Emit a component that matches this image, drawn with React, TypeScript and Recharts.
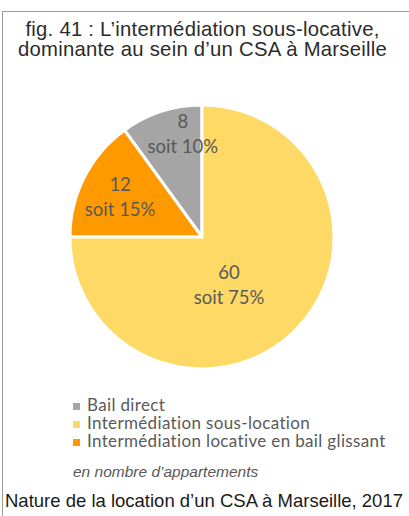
import React from 'react';
import { PieChart, Pie, Cell } from 'recharts';

const categories = ['Bail direct', 'Intermédiation locative en bail glissant', 'Intermédiation sous-location'];
const values = [8, 12, 60];
const percents = ['10%', '15%', '75%'];
const colors = ['#A5A5A5', '#FF9900', '#FFD966'];
const legendLabels = ['Bail direct', 'Intermédiation sous-location', 'Intermédiation locative en bail glissant'];
const legendColors = ['#A5A5A5', '#FFD966', '#FF9900'];
// label placement (polar, relative to pie centre): angle in degrees, radius as fraction of outer radius
const labelAngles = [100.5, 154, -60.6];
const labelRadii = [0.795, 0.69, 0.417];

const data = categories.map((c, i) => ({ name: c, value: values[i], pct: percents[i] }));

const RAD = Math.PI / 180;

const renderLabel = (props: any) => {
  const { cx, cy, outerRadius, index } = props;
  const a = labelAngles[index];
  const r = outerRadius * labelRadii[index];
  const x = cx + r * Math.cos(a * RAD);
  const y = cy - r * Math.sin(a * RAD);
  return (
    <text x={x} y={y} textAnchor="middle" fill="#595959" fontFamily="Lato, 'Open Sans', sans-serif" fontSize={18.5}>
      <tspan x={x} dy={-6}>{values[index]}</tspan>
      <tspan x={x} dy={25}>{'soit ' + percents[index]}</tspan>
    </text>
  );
};

export default function App() {
  return (
    <div style={{ position: 'absolute', left: 0, top: 0, width: 409, height: 516, background: '#fff', overflow: 'hidden' }}>
      <div style={{ position: 'absolute', left: 2, top: 11, width: 407, height: 505, borderTop: '1px solid #9a9a9a', borderLeft: '1px solid #9a9a9a', boxSizing: 'border-box' }} />
      <div style={{ position: 'absolute', left: 2, top: 19, width: 401, textAlign: 'center', fontFamily: "'Liberation Sans', Arial, sans-serif", fontSize: 20.3, letterSpacing: 0.25, lineHeight: '20px', color: '#2b2b2b', whiteSpace: 'nowrap' }}>
        <div>fig. 41 : L’intermédiation sous-locative,</div>
        <div>dominante au sein d’un CSA à Marseille</div>
      </div>
      <div style={{ position: 'absolute', left: 0, top: 0 }}>
        <PieChart width={409} height={400} margin={{ top: 0, right: 0, bottom: 0, left: 0 }}>
          <Pie
            data={data}
            dataKey="value"
            cx={202}
            cy={237}
            outerRadius={132}
            innerRadius={0}
            startAngle={90}
            endAngle={450}
            stroke="#ffffff"
            strokeWidth={3}
            label={renderLabel}
            labelLine={false}
            isAnimationActive={false}
          >
            {data.map((d, i) => (
              <Cell key={d.name} fill={colors[i]} />
            ))}
          </Pie>
        </PieChart>
      </div>
      <div style={{ position: 'absolute', left: 73, top: 396, fontFamily: "Lato, 'Open Sans', sans-serif", fontSize: 17, letterSpacing: 0.35, lineHeight: '18px', color: '#595959', whiteSpace: 'nowrap' }}>
        {legendLabels.map((label, i) => (
          <div key={label} style={{ display: 'flex', alignItems: 'center' }}>
            <span style={{ display: 'inline-block', width: 7, height: 7, background: legendColors[i], marginRight: 7, marginTop: 2 }} />
            <span>{label}</span>
          </div>
        ))}
      </div>
      <div style={{ position: 'absolute', left: 73, top: 463, fontFamily: "'Liberation Sans', Arial, sans-serif", fontStyle: 'italic', fontSize: 15.5, lineHeight: '18px', color: '#595959', whiteSpace: 'nowrap' }}>
        en nombre d’appartements
      </div>
      <div style={{ position: 'absolute', left: 5, top: 491, fontFamily: "'Liberation Sans', Arial, sans-serif", fontSize: 18.5, lineHeight: '20px', color: '#1a1a1a', whiteSpace: 'nowrap' }}>
        Nature de la location d’un CSA à Marseille, 2017
      </div>
    </div>
  );
}
